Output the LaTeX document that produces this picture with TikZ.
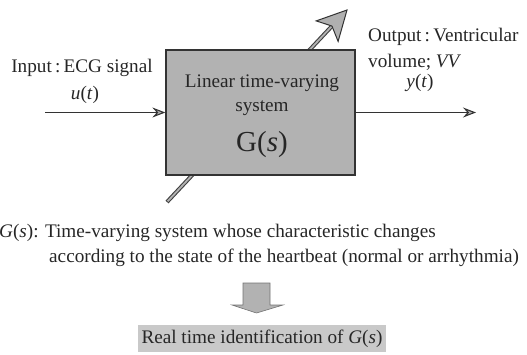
\documentclass[tikz,border=0pt]{standalone}
\usepackage{fontspec}
\setmainfont{Liberation Serif}
\usetikzlibrary{arrows.meta,calc}
\begin{document}
\begin{tikzpicture}[x=1pt,y=-1pt,
  font=\fontsize{19.2}{23}\selectfont,
  txt/.style={inner sep=0pt, text=black!85},
  conn/.style={draw=black!80, line width=1.1pt,
    -{Stealth[length=13pt,width=10pt,inset=4.5pt,fill=gray!60]}},
  sysbox/.style={draw=black!80, line width=1.3pt, fill=gray!60,
    minimum width=189pt, minimum height=125pt, inner sep=0pt},
  resbox/.style={fill=gray!42, minimum width=248pt, minimum height=27pt, inner sep=0pt}
]
\useasboundingbox (0,0) rectangle (527,354);

% diagonal time-variation arrow
\coordinate (lo) at (167,202);
\coordinate (hi) at (347,10);
\coordinate (hb) at ($(hi)!29pt!(lo)$);
\coordinate (hn) at ($(hi)!22pt!(lo)$);
\draw[line width=4pt, black!75] (lo) -- (hn);
\draw[line width=1.8pt, gray!60, shorten <=1pt] (lo) -- (hn);
\path[fill=gray!62, draw=black!80, line width=1pt, line join=miter]
  (hi) -- ($(hb)!15pt!90:(hi)$) -- (hn) -- ($(hb)!15pt!-90:(hi)$) -- cycle;

% system box
\node[sysbox] (sys) at (260.5,112.5) {};
\node[txt] (sysl1) at (262,83) {Linear time-varying};
\node[txt] (sysl2) at (262,108) {system};
\node[txt, font=\fontsize{29}{32}\selectfont] (sysg) at (262,145) {G(\textit{s})};

% input
\node[txt] (inlab) at (82,68) {Input\,:\,ECG signal};
\node[txt] (inu) at (85,95) {\textit{u}(\textit{t})};
\coordinate (in) at (45,112.5);
\draw[conn] (in) -- (sys.west);

% output
\node[txt, anchor=west] (outlab1) at (368,37) {Output\,:\,Ventricular};
\node[txt, anchor=west] (outlab2) at (368,62) {volume; \textit{VV}};
\node[txt] (outy) at (420,83) {\textit{y}(\textit{t})};
\coordinate (out) at (476,112.5);
\draw[conn] (sys.east) -- (out);

% description
\node[txt, anchor=west] (desc1) at (-1,233) {\textit{G}(\textit{s}): Time-varying system whose characteristic changes};
\node[txt, anchor=west] (desc2) at (49,258) {according to the state of the heartbeat (normal or arrhythmia)};

% down block arrow
\path[fill=gray!60, draw=black!55, line width=0.6pt] (243,283) -- (270,283) -- (270,305) -- (283,305)
  -- (256.5,313) -- (232,305) -- (243,305) -- cycle;

% result box
\node[resbox] (res) at (262,338.5) {};
\node[txt] (restext) at (262,338.5) {Real time identification of \textit{G}(\textit{s})};
\end{tikzpicture}
\end{document}
